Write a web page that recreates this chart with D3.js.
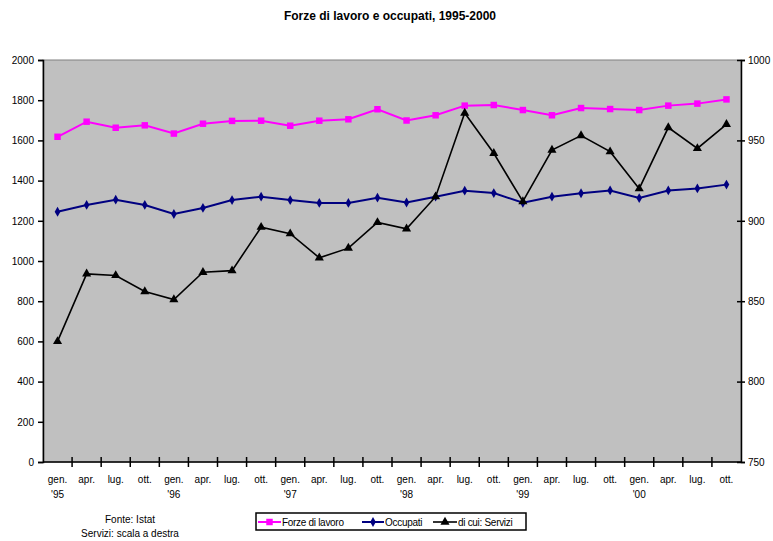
<!DOCTYPE html>
<html><head><meta charset="utf-8">
<script src="https://cdn.jsdelivr.net/npm/d3@7"></script>
<style>body{margin:0;background:#fff}svg{display:block;font-family:"Liberation Sans",Arial,sans-serif}</style>
</head><body><svg id="c" width="773" height="541"></svg>
<script>
const months = ["gen.","apr.","lug.","ott.","gen.","apr.","lug.","ott.","gen.","apr.","lug.","ott.","gen.","apr.","lug.","ott.","gen.","apr.","lug.","ott.","gen.","apr.","lug.","ott."];
const years = ["'95","","","","'96","","","","'97","","","","'98","","","","'99","","","","'00","","",""];
const forze = [1618,1693,1663,1675,1634,1683,1697,1698,1673,1698,1705,1755,1699,1725,1773,1776,1751,1725,1761,1756,1751,1773,1783,1804];
const occupati = [1245,1279,1305,1279,1234,1264,1303,1320,1303,1289,1289,1315,1291,1320,1350,1338,1290,1320,1337,1351,1313,1351,1361,1380];
const servizi = [825,867,866,856,851,868,869,896,892,877,883,899,895,915,967,942,912,944,953,943,920,958,945,960];
const leftTicks = [0,200,400,600,800,1000,1200,1400,1600,1800,2000];
const rightTicks = [750,800,850,900,950,1000];
const seriesNames = ["Forze di lavoro","Occupati","di cui: Servizi"];

const svg = d3.select("#c");
const L=43, R=741, T=60, B=462;
const idx = d3.range(months.length);
const x = d3.scaleBand().domain(idx).range([L,R]).padding(0);
const cx = i => x(i) + x.bandwidth()/2;
const yL = d3.scaleLinear().domain([0,2000]).range([B,T]);
const yR = d3.scaleLinear().domain([750,1000]).range([B,T]);

svg.append("text").attr("x",390).attr("y",20).attr("text-anchor","middle")
  .attr("font-size",12).attr("font-weight","bold").text("Forze di lavoro e occupati, 1995-2000");

svg.append("rect").attr("x",L).attr("y",T).attr("width",R-L).attr("height",B-T)
  .attr("fill","#C0C0C0").attr("stroke","#808080").attr("stroke-width",1);

// left axis
const gl = svg.append("g").attr("transform",`translate(${L},0)`)
  .call(d3.axisLeft(yL).tickValues(leftTicks).tickSize(5).tickFormat(d3.format("d")));
gl.select(".domain").attr("stroke","#000").attr("stroke-width",1.5);
gl.selectAll(".tick line").attr("stroke","#000").attr("stroke-width",1.5);
gl.selectAll("text").attr("font-size",10).attr("font-family","Liberation Sans, Arial").attr("fill","#000").attr("x",-9);

// right axis
const gr = svg.append("g").attr("transform",`translate(${R},0)`)
  .call(d3.axisRight(yR).tickValues(rightTicks).tickSize(4).tickFormat(d3.format("d")));
gr.select(".domain").attr("stroke","#000").attr("stroke-width",1.5);
gr.selectAll(".tick line").attr("stroke","#000").attr("stroke-width",1.5).attr("x1",-4);
gr.selectAll("text").attr("font-size",10).attr("font-family","Liberation Sans, Arial").attr("fill","#000").attr("x",7);

// bottom axis
const gb = svg.append("g").attr("transform",`translate(0,${B})`);
gb.append("line").attr("x1",L).attr("x2",R).attr("stroke","#000").attr("stroke-width",1.5);
gb.selectAll("line.tk").data(d3.range(1,months.length)).join("line").attr("class","tk")
  .attr("x1",d=>x(d)).attr("x2",d=>x(d)).attr("y1",-5).attr("y2",5).attr("stroke","#000").attr("stroke-width",1.5);
const lab = gb.selectAll("text.lb").data(idx).join("text").attr("class","lb")
  .attr("font-size",10).attr("text-anchor","middle").attr("fill","#000");
lab.append("tspan").attr("x",d=>cx(d)).attr("y",21).text(d=>months[d]);
lab.append("tspan").attr("x",d=>cx(d)).attr("y",36).text(d=>years[d]);

// series
const defs = [
 {data:forze, y:yL, color:"#FF00FF", w:2, sym:d3.symbolSquare, size:42},
 {data:occupati, y:yL, color:"#000080", w:2, sym:d3.symbolDiamond, size:28},
 {data:servizi, y:yR, color:"#000000", w:1.6, sym:d3.symbolTriangle, size:36}
];
defs.forEach(s=>{
  svg.append("path").datum(s.data).attr("fill","none").attr("stroke",s.color).attr("stroke-width",s.w)
    .attr("d", d3.line().x((d,i)=>cx(i)).y(d=>s.y(d)));
  svg.selectAll(null).data(s.data).join("path")
    .attr("transform",(d,i)=>`translate(${cx(i)},${s.y(d)})`)
    .attr("d", d3.symbol().type(s.sym).size(s.size)).attr("fill",s.color);
});

// footer
svg.append("text").attr("x",130).attr("y",523).attr("text-anchor","middle").attr("font-size",10).text("Fonte: Istat");
svg.append("text").attr("x",130).attr("y",537).attr("text-anchor","middle").attr("font-size",10).text("Servizi: scala a destra");

// legend
const lg = svg.append("g");
lg.append("rect").attr("x",256).attr("y",513).attr("width",270).attr("height",17).attr("fill","#fff").attr("stroke","#000").attr("stroke-width",1.5);
const items = [{x0:258,len:23,tx:282},{x0:362,len:22,tx:385},{x0:433,len:24,tx:458}];
items.forEach((it,k)=>{
  const s = defs[k];
  lg.append("line").attr("x1",it.x0).attr("x2",it.x0+it.len).attr("y1",522).attr("y2",522).attr("stroke",s.color).attr("stroke-width",s.w);
  lg.append("path").attr("transform",`translate(${it.x0+it.len/2},522)`).attr("d",d3.symbol().type(s.sym).size(s.size)).attr("fill",s.color);
  lg.append("text").attr("x",it.tx).attr("y",526).attr("font-size",10).attr("letter-spacing",-0.3).text(seriesNames[k]);
});
</script></body></html>
